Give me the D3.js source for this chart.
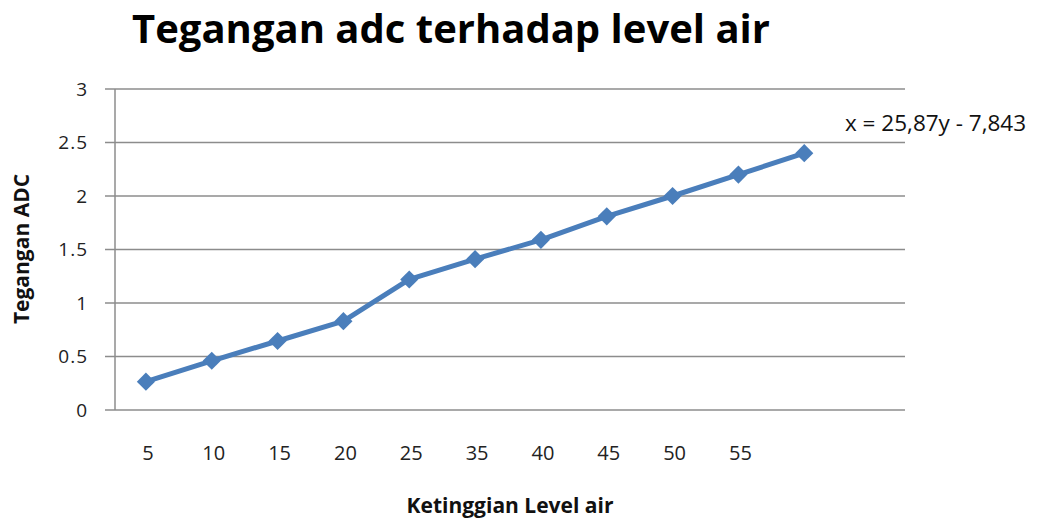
<!DOCTYPE html>
<html>
<head>
<meta charset="utf-8">
<script src="https://cdn.jsdelivr.net/npm/d3@7"></script>
<style>
  body { margin: 0; background: #fff; }
  text { font-family: "Open Sans", "DejaVu Sans", sans-serif; }
</style>
</head>
<body>
<svg id="chart" width="1047" height="521"></svg>
<script>
// category slots on the x axis (last two have no label in the original)
var categories = ['5', '10', '15', '20', '25', '35', '40', '45', '50', '55', '', ''];
// tegangan adc readings, one per slot (11 points)
var tegangan = [0.265, 0.46, 0.645, 0.83, 1.22, 1.41, 1.59, 1.81, 2.0, 2.2, 2.4];
var yTicks = [0, 0.5, 1, 1.5, 2, 2.5, 3];
var equation = 'x = 25,87y - 7,843';

var margin = {top: 89, left: 115, right: 142, bottom: 111},
    W = 1047, H = 521,
    width = W - margin.left - margin.right,
    height = H - margin.top - margin.bottom;

var svg = d3.select('#chart');
var g = svg.append('g').attr('transform', 'translate(' + margin.left + ',' + margin.top + ')');

var x = d3.scaleBand().domain(d3.range(categories.length)).range([0, width]);
var y = d3.scaleLinear().domain([0, 3]).range([height, 0]);

// gridlines + left ticks
g.selectAll('.grid').data(yTicks).enter().append('line')
  .attr('x1', -10).attr('x2', width)
  .attr('y1', function(d) { return y(d); }).attr('y2', function(d) { return y(d); })
  .attr('stroke', '#8c8c8c').attr('stroke-width', 1.5);

g.append('line').attr('x1', 0).attr('x2', 0).attr('y1', 0).attr('y2', height)
  .attr('stroke', '#8c8c8c').attr('stroke-width', 1.5);

g.selectAll('.ylab').data(yTicks).enter().append('text')
  .attr('x', -27).attr('y', function(d) { return y(d); })
  .attr('dy', '0.35em').attr('text-anchor', 'end')
  .attr('font-size', 19).attr('letter-spacing', 1).attr('fill', '#222')
  .text(function(d) { return d3.format('')(d); });

g.selectAll('.xlab').data(categories).enter().append('text')
  .attr('x', function(d, i) { return x(i) + x.bandwidth() / 2; })
  .attr('y', height + 50)
  .attr('text-anchor', 'middle')
  .attr('font-size', 20).attr('fill', '#222')
  .text(function(d) { return d; });

// series
var px = function(i) { return x(i) + x.bandwidth() / 2 - 2; };
var line = d3.line()
  .x(function(d, i) { return px(i); })
  .y(function(d) { return y(d); });

g.append('path').datum(tegangan)
  .attr('d', line)
  .attr('fill', 'none').attr('stroke', '#4a7ebb').attr('stroke-width', 5)
  .attr('stroke-linejoin', 'round');

g.selectAll('.pt').data(tegangan).enter().append('path')
  .attr('d', d3.symbol().type(d3.symbolSquare).size(165))
  .attr('transform', function(d, i) {
    return 'translate(' + px(i) + ',' + y(d) + ') rotate(45)';
  })
  .attr('fill', '#4a7ebb');

// titles
svg.append('text').attr('x', 451).attr('y', 43).attr('text-anchor', 'middle')
  .attr('font-size', 40).attr('font-weight', 'bold').attr('fill', '#000')
  .text('Tegangan adc terhadap level air');

svg.append('text').attr('x', 510).attr('y', 513).attr('text-anchor', 'middle')
  .attr('font-size', 21).attr('font-weight', 'bold').attr('fill', '#111')
  .text('Ketinggian Level air');

svg.append('text')
  .attr('transform', 'translate(29,249) rotate(-90)')
  .attr('text-anchor', 'middle')
  .attr('font-size', 21).attr('font-weight', 'bold').attr('fill', '#111')
  .text('Tegangan ADC');

svg.append('text').attr('x', 845).attr('y', 131)
  .attr('font-size', 22.5).attr('fill', '#111')
  .text(equation);
</script>
</body>
</html>
